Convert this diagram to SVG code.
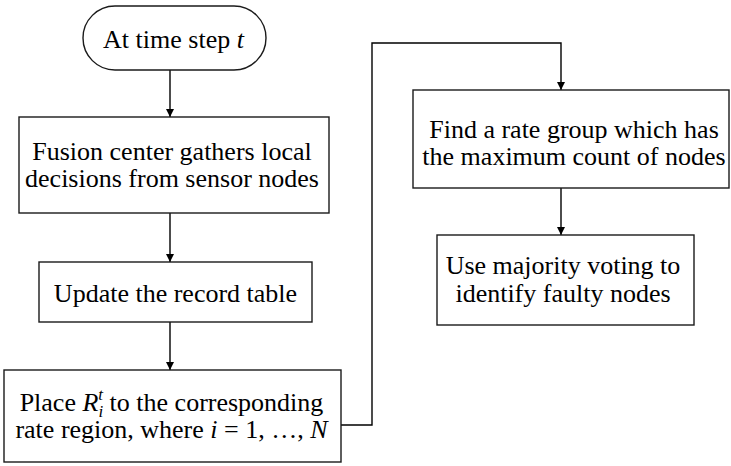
<svg xmlns="http://www.w3.org/2000/svg" width="731" height="466" viewBox="0 0 731 466">
<defs>
<marker id="arr" viewBox="0 0 10 10" refX="10" refY="5" markerWidth="9" markerHeight="8" markerUnits="userSpaceOnUse" orient="auto">
<path d="M0,0 L10,5 L0,10 z" fill="#000"/>
</marker>
<style>
.box{fill:#fff;stroke:#1a1a1a;stroke-width:1.4}
.t{font-size:26px;fill:#000;text-anchor:middle}
.i{font-style:italic}
.c{fill:none;stroke:#000;stroke-width:1.4;marker-end:url(#arr)}
</style>
</defs>
<rect width="731" height="466" fill="#fff"/>
<g id="connectors">
<line class="c" x1="170" y1="70" x2="170" y2="117"/>
<line class="c" x1="170" y1="213" x2="170" y2="262"/>
<line class="c" x1="170" y1="322" x2="170" y2="370"/>
<polyline class="c" points="341,425 372,425 372,43 561,43 561,90"/>
<line class="c" x1="561" y1="188" x2="561" y2="235"/>
</g>
<g font-family="Liberation Serif, Times New Roman, serif">
<g id="start">
<rect class="box" x="83" y="6" width="183" height="64" rx="32" ry="32"/>
<text class="t" x="173.5" y="48">At time step <tspan class="i">t</tspan></text>
</g>
<g id="gather">
<rect class="box" x="19" y="117" width="310" height="96"/>
<text class="t" x="172" y="160">Fusion center gathers local</text>
<text class="t" x="172" y="187">decisions from sensor nodes</text>
</g>
<g id="update">
<rect class="box" x="39" y="262" width="273" height="60"/>
<text class="t" x="175.5" y="302">Update the record table</text>
</g>
<g id="place">
<rect class="box" x="4" y="370" width="337" height="92"/>
<text class="t" x="171.5" y="411">Place <tspan class="i">R</tspan><tspan class="i" font-size="17" dy="-11">t</tspan><tspan class="i" font-size="17" dx="-4.7" dy="17">i</tspan><tspan dy="-6"> to the corresponding</tspan></text>
<text class="t" x="171.5" y="438">rate region, where <tspan class="i">i</tspan> = 1, …, <tspan class="i">N</tspan></text>
</g>
<g id="find">
<rect class="box" x="413" y="90" width="316" height="98"/>
<text class="t" x="574" y="138">Find a rate group which has</text>
<text class="t" x="574" y="165">the maximum count of nodes</text>
</g>
<g id="vote">
<rect class="box" x="437" y="235" width="257" height="90"/>
<text class="t" x="563" y="274">Use majority voting to</text>
<text class="t" x="563" y="302">identify faulty nodes</text>
</g>
</g>
</svg>
